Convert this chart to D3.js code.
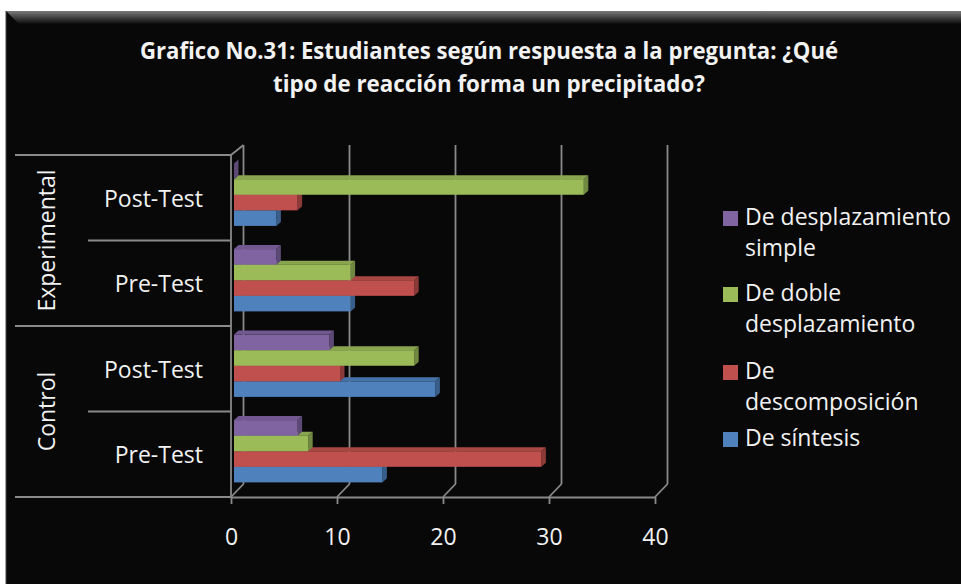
<!DOCTYPE html>
<html>
<head>
<meta charset="utf-8">
<script src="https://cdn.jsdelivr.net/npm/d3@7/dist/d3.min.js"></script>
<style>
  html, body { margin: 0; padding: 0; background: #ffffff; }
  svg { display: block; }
  text { font-family: "Open Sans", Lato, sans-serif; fill: #f2f2f2; }
</style>
</head>
<body>
<svg id="chart" width="961" height="584"></svg>
<script>
// Categories (top to bottom) and their groups
const groups = ["Experimental", "Experimental", "Control", "Control"];
const tests = ["Post-Test", "Pre-Test", "Post-Test", "Pre-Test"];

// Series, top bar to bottom bar within each cluster
const seriesNames = ["De desplazamiento simple", "De doble desplazamiento", "De descomposición", "De síntesis"];
const seriesColors = ["#8064A2", "#9BBB59", "#C0504D", "#4F81BD"];
const desplazamientoSimple = [0, 4, 9, 6];
const dobleDesplazamiento = [33, 11, 17, 7];
const descomposicion = [6, 17, 10, 29];
const sintesis = [4, 11, 19, 14];

// Legend text, wrapped as shown
const legendLines = [["De desplazamiento", "simple"], ["De doble", "desplazamiento"], ["De", "descomposición"], ["De síntesis"]];

const tickValues = [0, 10, 20, 30, 40];
const titleLines = ["Grafico No.31: Estudiantes  según respuesta a la pregunta: ¿Qué", "tipo de reacción forma un precipitado?"];

const seriesValues = [desplazamientoSimple, dobleDesplazamiento, descomposicion, sintesis];
const catKeys = groups.map((g, i) => g + "|" + tests[i]);

const svg = d3.select("#chart");
const W = 961, H = 584;
const labelSize = 23;

// Background panel with bevelled top edge
const defs = svg.append("defs");
const bevel = defs.append("linearGradient").attr("id", "bevel").attr("x1", 0).attr("y1", 0).attr("x2", 0).attr("y2", 1);
bevel.append("stop").attr("offset", "0%").attr("stop-color", "#7a7a7a");
bevel.append("stop").attr("offset", "100%").attr("stop-color", "#0a0a0a");

svg.append("rect").attr("x", 0).attr("y", 0).attr("width", W).attr("height", H).attr("fill", "#ffffff");
svg.append("rect").attr("x", 6).attr("y", 11).attr("width", W - 6).attr("height", H - 11).attr("fill", "#080808");
svg.append("path")
  .attr("d", `M6,11 L${W},11 L${W},24 L19,24 Z`)
  .attr("fill", "url(#bevel)");
svg.append("line").attr("x1", 6).attr("y1", 11).attr("x2", 6).attr("y2", H).attr("stroke", "#444").attr("stroke-width", 1);

// Title
const title = svg.append("g");
title.append("text").attr("x", 489).attr("y", 59).attr("text-anchor", "middle")
  .attr("font-size", 24).attr("textLength", 698).attr("lengthAdjust", "spacingAndGlyphs")
  .attr("font-weight", "bold").text(titleLines[0]);
title.append("text").attr("x", 489).attr("y", 92).attr("text-anchor", "middle")
  .attr("font-size", 24).attr("textLength", 432).attr("lengthAdjust", "spacingAndGlyphs")
  .attr("font-weight", "bold").text(titleLines[1]);

// Plot geometry: front plane and 3D depth offset
const frontTop = 155, frontBottom = 497;
const DX = 12.5, DY = -13;
const x = d3.scaleLinear().domain([0, 40]).range([231, 655]);
const yCat = d3.scaleBand().domain(catKeys).range([frontTop, frontBottom]);
const ySer = d3.scaleBand().domain(seriesNames).range([0, yCat.bandwidth()]).paddingOuter(0.745).paddingInner(0);

const gridColor = "#8a8a8a";
const grid = svg.append("g").attr("stroke", gridColor).attr("stroke-width", 1.8).attr("fill", "none");

// Back wall gridlines
grid.selectAll("line.back").data(tickValues).join("line")
  .attr("x1", d => x(d) + DX).attr("x2", d => x(d) + DX)
  .attr("y1", 145).attr("y2", frontBottom + DY);
// Floor depth lines
grid.selectAll("line.floor").data(tickValues).join("line")
  .attr("x1", d => x(d)).attr("y1", frontBottom)
  .attr("x2", d => x(d) + DX).attr("y2", frontBottom + DY);
// Left wall
grid.append("line").attr("x1", x(0)).attr("x2", x(0)).attr("y1", frontTop).attr("y2", frontBottom);
grid.append("line").attr("x1", x(0)).attr("y1", frontTop).attr("x2", x(0) + DX).attr("y2", 145);

// Category separators
const sepData = [
  { y: frontTop, x0: 15 },
  { y: yCat(catKeys[1]), x0: 88 },
  { y: yCat(catKeys[2]), x0: 15 },
  { y: yCat(catKeys[3]), x0: 88 },
  { y: frontBottom, x0: 15 }
];
grid.selectAll("line.sep").data(sepData).join("line")
  .attr("x1", d => d.x0).attr("x2", x(0)).attr("y1", d => d.y).attr("y2", d => d.y);

// Value axis along the front floor edge
const axis = svg.append("g").attr("transform", `translate(0,${frontBottom})`)
  .call(d3.axisBottom(x).tickValues(tickValues).tickSize(7).tickSizeOuter(0).tickPadding(25).tickFormat(d3.format("d")));
axis.select(".domain").attr("stroke", gridColor).attr("stroke-width", 1.8);
axis.selectAll(".tick line").attr("stroke", gridColor).attr("stroke-width", 1.8);
axis.selectAll(".tick text").attr("font-size", labelSize).attr("font-family", "'Open Sans', sans-serif").attr("fill", "#f2f2f2");

// Category labels
svg.append("g").selectAll("text").data(catKeys).join("text")
  .attr("x", 203).attr("y", d => yCat(d) + yCat.bandwidth() / 2 + 9)
  .attr("text-anchor", "end").attr("font-size", labelSize)
  .text((d, i) => tests[i]);

// Group labels (rotated)
const groupNames = Array.from(new Set(groups));
svg.append("g").selectAll("text").data(groupNames).join("text")
  .attr("transform", g => {
    const ks = catKeys.filter((k, i) => groups[i] === g);
    const cy = (yCat(ks[0]) + yCat(ks[ks.length - 1]) + yCat.bandwidth()) / 2;
    return `translate(55,${cy}) rotate(-90)`;
  })
  .attr("text-anchor", "middle").attr("font-size", labelSize)
  .text(g => g);

// 3D bars: front face sits a little behind the front plane
const fdx = 3, fdy = -3;     // front face offset
const bdx = 4.5, bdy = -4;   // bar thickness in depth
const bars = svg.append("g");
catKeys.forEach((cat, ci) => {
  // draw lowest bar first so upper bars overlap their neighbours' top faces
  for (let si = seriesNames.length - 1; si >= 0; si--) {
    const v = seriesValues[si][ci];
    const c = d3.color(seriesColors[si]);
    const x0 = x(0) + fdx, x1 = x(v) + fdx;
    const y0 = yCat(cat) + ySer(seriesNames[si]) + fdy;
    const h = ySer.bandwidth();
    const g = bars.append("g");
    g.append("path")
      .attr("d", `M${x0},${y0} L${x1},${y0} L${x1 + bdx},${y0 + bdy} L${x0 + bdx},${y0 + bdy} Z`)
      .attr("fill", c.darker(0.35).formatHex());
    g.append("path")
      .attr("d", `M${x1},${y0} L${x1 + bdx},${y0 + bdy} L${x1 + bdx},${y0 + h + bdy} L${x1},${y0 + h} Z`)
      .attr("fill", c.darker(0.9).formatHex());
    g.append("rect")
      .attr("x", x0).attr("y", y0).attr("width", Math.max(0, x1 - x0)).attr("height", h)
      .attr("fill", c.formatHex());
  }
});

// Legend
const legendTop = [211, 287, 365, 432];
const legend = svg.append("g");
seriesNames.forEach((name, i) => {
  legend.append("rect").attr("x", 723).attr("y", legendTop[i]).attr("width", 15).attr("height", 15)
    .attr("fill", seriesColors[i]);
  const t = legend.append("text").attr("x", 745).attr("y", legendTop[i] + 14).attr("font-size", labelSize);
  legendLines[i].forEach((line, j) => {
    t.append("tspan").attr("x", 745).attr("dy", j === 0 ? 0 : 31).text(line);
  });
});
</script>
</body>
</html>
